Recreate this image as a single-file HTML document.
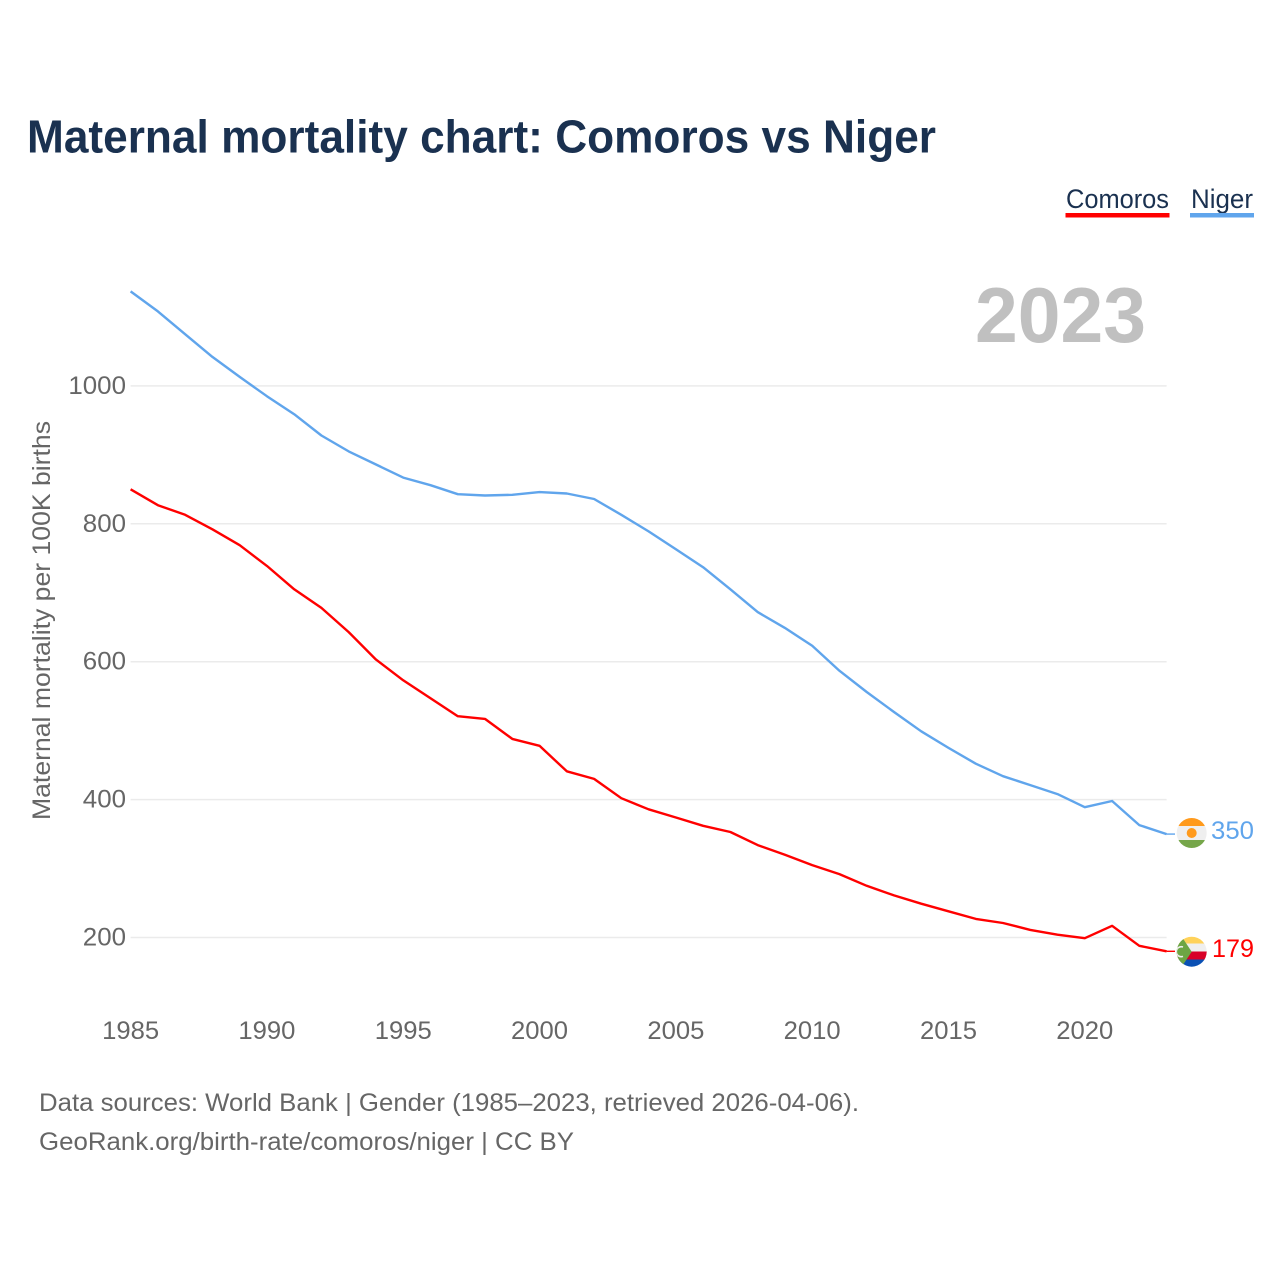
<!DOCTYPE html>
<html>
<head>
<meta charset="utf-8">
<title>Maternal mortality chart: Comoros vs Niger</title>
<style>
html,body{margin:0;padding:0;background:#fff;width:1280px;height:1280px;overflow:hidden}
svg{display:block}
text{font-family:"Liberation Sans",sans-serif}
</style>
</head>
<body>
<svg id="chart" xmlns="http://www.w3.org/2000/svg" width="1280" height="1280" viewBox="0 0 1280 1280">
  <defs>
    <clipPath id="clip-niger"><circle cx="1191.7" cy="833" r="15"/></clipPath>
    <clipPath id="clip-comoros"><circle cx="1191.7" cy="951.7" r="15"/></clipPath>
  </defs>
  <rect width="1280" height="1280" fill="#fff"/>
  <text x="27" y="152.5" font-size="46" font-weight="700" fill="#1a3150" textLength="909" lengthAdjust="spacingAndGlyphs">Maternal mortality chart: Comoros vs Niger</text>

  <g>
    <text x="1066" y="208" font-size="27" fill="#1a3150" textLength="103" lengthAdjust="spacingAndGlyphs">Comoros</text>
    <rect x="1065.5" y="213" width="104" height="4.5" fill="#ff0000"/>
  </g>
  <g>
    <text x="1191" y="208" font-size="27" fill="#1a3150" textLength="62" lengthAdjust="spacingAndGlyphs">Niger</text>
    <rect x="1190" y="213" width="64" height="4.5" fill="#60a5ec"/>
  </g>

  <text x="975" y="342" font-size="78" font-weight="700" fill="#c0c0c0" textLength="171" lengthAdjust="spacingAndGlyphs">2023</text>

  <text transform="translate(50,820) rotate(-90)" x="0" y="0" font-size="25" fill="#666" textLength="399" lengthAdjust="spacingAndGlyphs">Maternal mortality per 100K births</text>

  <g id="grid"></g>
  <g id="yticks"></g>
  <g id="xticks"></g>
  <g id="series"></g>

  <g clip-path="url(#clip-niger)">
    <rect x="1176" y="818" width="32" height="8" fill="#ff9a1c"/>
    <rect x="1176" y="826" width="32" height="14" fill="#efefef"/>
    <rect x="1176" y="840" width="32" height="9" fill="#76a64a"/>
    <circle cx="1191.7" cy="833" r="5" fill="#ff9a1c"/>
  </g>
  <g clip-path="url(#clip-comoros)">
    <rect x="1176" y="936" width="32" height="7.5" fill="#ffd25a"/>
    <rect x="1176" y="943.5" width="32" height="8" fill="#efefef"/>
    <rect x="1176" y="951.5" width="32" height="8" fill="#d80027"/>
    <rect x="1176" y="959.5" width="32" height="9" fill="#0a50b4"/>
    <polygon points="1191.7,951.7 1176,928 1176,975.4" fill="#6da544"/>
    <path d="M1183 947 A5 5 0 1 0 1183 956.4" fill="none" stroke="#efefef" stroke-width="1.6"/>
  </g>
  <text x="1211" y="839" font-size="25" fill="#60a5ec" textLength="43" lengthAdjust="spacingAndGlyphs">350</text>
  <text x="1212" y="957" font-size="25" fill="#ff0000" textLength="42" lengthAdjust="spacingAndGlyphs">179</text>

  <text x="39" y="1111" font-size="25" fill="#666" textLength="820" lengthAdjust="spacingAndGlyphs">Data sources: World Bank | Gender (1985–2023, retrieved 2026-04-06).</text>
  <text x="39" y="1150" font-size="25" fill="#666" textLength="535" lengthAdjust="spacingAndGlyphs">GeoRank.org/birth-rate/comoros/niger | CC BY</text>
</svg>
<script>
const years = [1985,1986,1987,1988,1989,1990,1991,1992,1993,1994,1995,1996,1997,1998,1999,2000,2001,2002,2003,2004,2005,2006,2007,2008,2009,2010,2011,2012,2013,2014,2015,2016,2017,2018,2019,2020,2021,2022,2023];
const nigerValues = [1137,1108,1075,1042,1013,985,959,928,905,886,867,856,843,841,842,846,844,836,813,789,763,737,705,672,649,623,587,556,527,499,475,452,434,421,408,389,398,363,350];
const comorosValues = [850,827,813,792,769,739,705,678,643,603,573,547,521,517,488,478,441,430,402,386,374,362,353,334,320,305,292,275,261,249,238,227,221,211,204,199,217,188,180];
const xTickLabels = [1985,1990,1995,2000,2005,2010,2015,2020];
const yTickLabels = [200,400,600,800,1000];

const NS = 'http://www.w3.org/2000/svg';
function xScale(year){ return 130.6 + (year - 1985) * (1166.6 - 130.6) / 38; }
function yScale(v){ return 937.5 - (v - 200) * (937.5 - 385.9) / 800; }

const grid = document.getElementById('grid');
const yticks = document.getElementById('yticks');
const xticks = document.getElementById('xticks');
const series = document.getElementById('series');

yTickLabels.forEach(function(v){
  const line = document.createElementNS(NS, 'line');
  
  
  line.setAttribute('x1', 130.6);
  line.setAttribute('x2', 1166.6);
  line.setAttribute('y1', yScale(v));
  line.setAttribute('y2', yScale(v));
  line.setAttribute('stroke', '#ebebeb');
  line.setAttribute('stroke-width', '1.5');
  grid.appendChild(line);

  const t = document.createElementNS(NS, 'text');
  
  
  t.setAttribute('x', 126);
  t.setAttribute('y', yScale(v) + 8);
  t.setAttribute('text-anchor', 'end');
  t.setAttribute('font-size', '25');
  t.setAttribute('fill', '#666');
  t.setAttribute('textLength', String(v).length * 14.4);
  t.setAttribute('lengthAdjust', 'spacingAndGlyphs');
  t.textContent = v;
  yticks.appendChild(t);
});

xTickLabels.forEach(function(y){
  const t = document.createElementNS(NS, 'text');
  
  
  t.setAttribute('x', xScale(y));
  t.setAttribute('y', 1039);
  t.setAttribute('text-anchor', 'middle');
  t.setAttribute('font-size', '25');
  t.setAttribute('fill', '#666');
  t.setAttribute('textLength', '57');
  t.setAttribute('lengthAdjust', 'spacingAndGlyphs');
  t.textContent = y;
  xticks.appendChild(t);
});

function addLine(values, color, name){
  const pts = values.map(function(v, i){ return xScale(years[i]).toFixed(1) + ',' + yScale(v).toFixed(1); }).join(' ');
  const p = document.createElementNS(NS, 'polyline');
  
  
  p.setAttribute('points', pts);
  p.setAttribute('fill', 'none');
  p.setAttribute('stroke', color);
  p.setAttribute('stroke-width', '2.4');
  p.setAttribute('stroke-linejoin', 'round');
  series.appendChild(p);

  const last = yScale(values[values.length - 1]);
  const c = document.createElementNS(NS, 'line');
  
  
  c.setAttribute('x1', xScale(years[years.length - 1]));
  c.setAttribute('x2', 1175);
  c.setAttribute('y1', last);
  c.setAttribute('y2', last);
  c.setAttribute('stroke', color);
  c.setAttribute('stroke-width', '1.4');
  series.appendChild(c);
}
addLine(comorosValues, '#ff0000', 'line-comoros');
addLine(nigerValues, '#60a5ec', 'line-niger');
</script>
</body>
</html>
